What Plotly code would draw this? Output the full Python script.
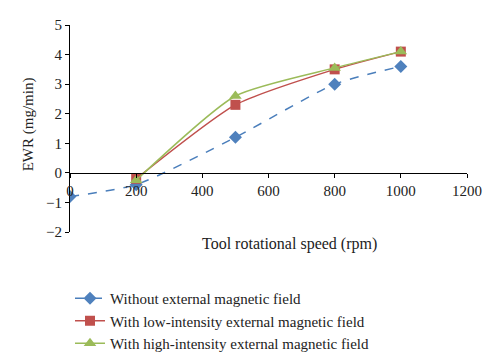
import plotly.graph_objects as go

speed_blue = [0, 200, 500, 800, 1000]
ewr_blue = [-0.8, -0.4, 1.2, 3.0, 3.6]
speed_red = [200, 500, 800, 1000]
ewr_red = [-0.2, 2.3, 3.5, 4.1]
speed_green = [200, 500, 800, 1000]
ewr_green = [-0.25, 2.6, 3.55, 4.1]
names = ["Without external magnetic field",
         "With low-intensity external magnetic field",
         "With high-intensity external magnetic field"]
x_ticks = [0, 200, 400, 600, 800, 1000, 1200]
y_ticks = [-2, -1, 0, 1, 2, 3, 4, 5]
y_tick_text = ["\u22122", "\u22121", "0", "1", "2", "3", "4", "5"]

font = "Liberation Serif"
W, H = 492, 355
fig = go.Figure()
fig.add_trace(go.Scatter(x=speed_blue, y=ewr_blue, name=names[0], mode="lines+markers",
                         line=dict(color="#4a7ebb", width=1.5, dash="dash", shape="spline", smoothing=0.6),
                         marker=dict(symbol="diamond", size=10, color="#4f81bd")))
fig.add_trace(go.Scatter(x=speed_red, y=ewr_red, name=names[1], mode="lines+markers",
                         line=dict(color="#c0504d", width=1.5, shape="spline", smoothing=0.6),
                         marker=dict(symbol="square", size=10, color="#c0504d")))
fig.add_trace(go.Scatter(x=speed_green, y=ewr_green, name=names[2], mode="lines+markers",
                         line=dict(color="#9bbb59", width=1.5, shape="spline", smoothing=0.6),
                         marker=dict(symbol="triangle-up", size=11, color="#9bbb59")))

fig.update_layout(
    width=W, height=H,
    margin=dict(l=62, r=33, t=17, b=131, autoexpand=False),
    paper_bgcolor="white", plot_bgcolor="white",
    font=dict(family=font, size=15, color="#222"),
    showlegend=True,
    legend=dict(x=62 / W, y=(H - 274) / H, xref="container", yref="container",
                xanchor="left", yanchor="top",
                font=dict(size=15, family=font, color="#222"), tracegroupgap=0,
                itemwidth=30, bgcolor="rgba(0,0,0,0)"),
    xaxis=dict(range=[0, 1200], tickvals=x_ticks, showgrid=False, zeroline=False,
               showline=True, linecolor="black", linewidth=1.2,
               ticks="outside", ticklen=4, tickcolor="black",
               anchor="free", position=2/7, tickfont=dict(size=15)),
    yaxis=dict(range=[-2, 5], tickvals=y_ticks, ticktext=y_tick_text, showgrid=False, zeroline=False,
               showline=True, linecolor="black", linewidth=1.2,
               ticks="outside", ticklen=4, tickcolor="black",
               tickfont=dict(size=15)),
    annotations=[
        dict(text="Tool rotational speed (rpm)", x=0.553, y=-0.005, xref="paper", yref="paper",
             xanchor="center", yanchor="top", showarrow=False, font=dict(size=16)),
        dict(text="EWR (mg/min)", x=(20 - 62) / 397, y=0.52, xref="paper", yref="paper",
             xanchor="center", yanchor="middle", textangle=-90, showarrow=False, font=dict(size=15)),
    ],
)
fig.write_html("out.html")
